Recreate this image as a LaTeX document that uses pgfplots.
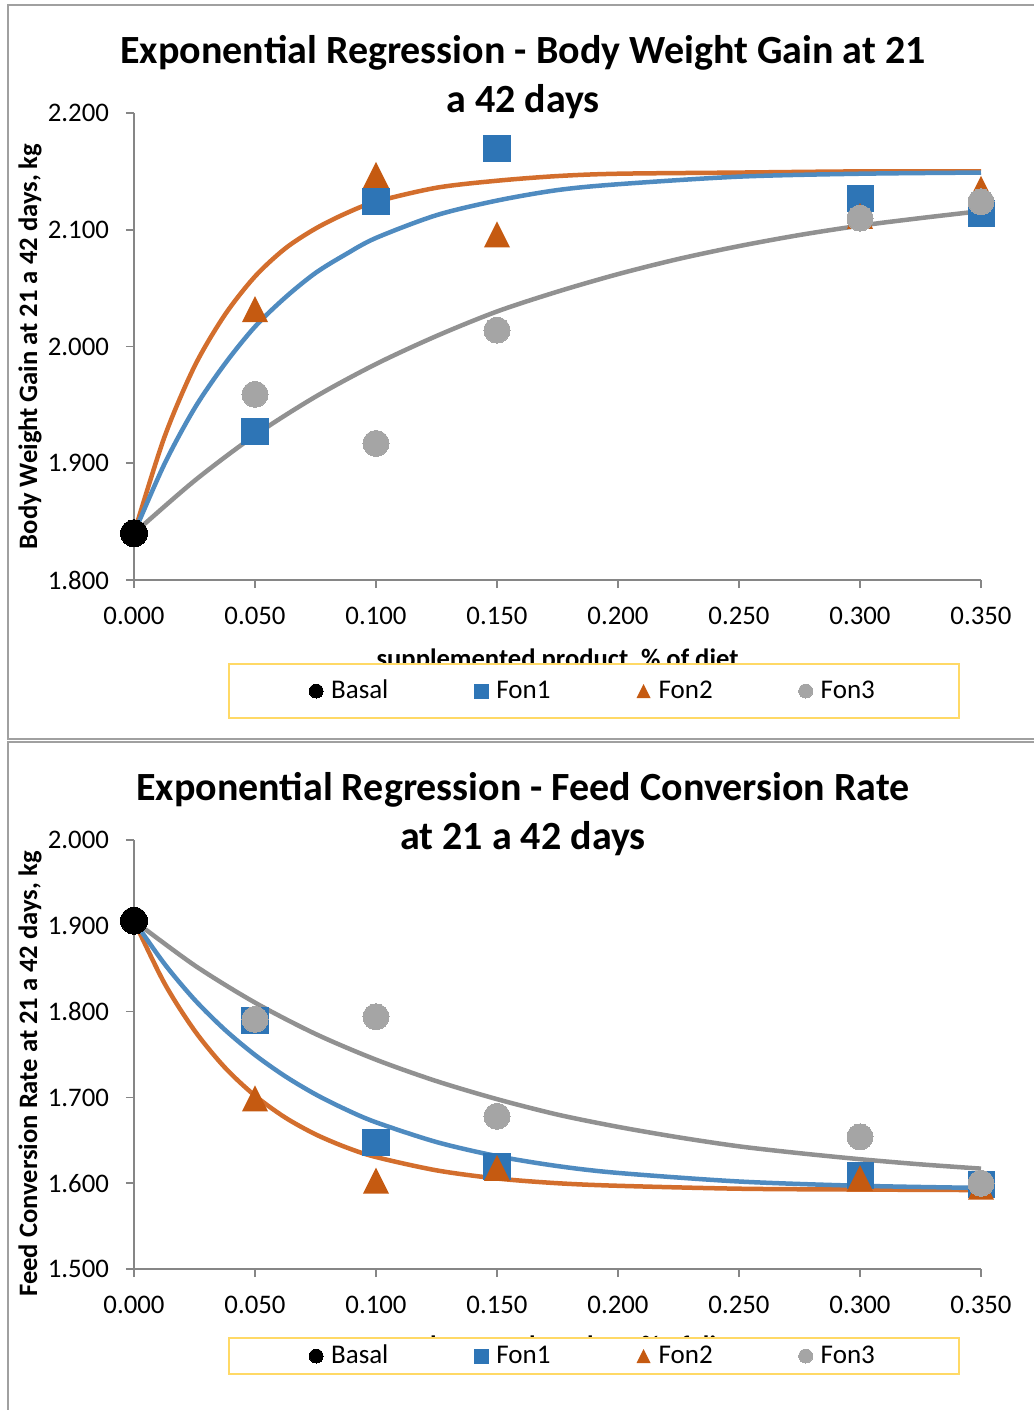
\documentclass[border=0pt]{standalone}
\usepackage{fontspec}
\setmainfont{Carlito}
\usepackage{pgfplots}
\pgfplotsset{compat=1.18}

\definecolor{mblue}{RGB}{46,117,182}
\definecolor{lblue}{RGB}{79,139,192}
\definecolor{morange}{RGB}{197,90,17}
\definecolor{lorange}{RGB}{211,110,45}
\definecolor{mgray}{RGB}{165,165,165}
\definecolor{lgray}{RGB}{145,145,145}
\definecolor{lgold}{RGB}{255,217,102}
\definecolor{framegray}{RGB}{160,160,160}
\definecolor{axgray}{RGB}{134,134,134}

\pgfdeclareplotmark{etri}{%
  \pgfpathmoveto{\pgfqpoint{0pt}{\pgfplotmarksize}}%
  \pgfpathlineto{\pgfqpoint{\pgfplotmarksize}{-\pgfplotmarksize}}%
  \pgfpathlineto{\pgfqpoint{-\pgfplotmarksize}{-\pgfplotmarksize}}%
  \pgfpathclose\pgfusepathqfill}

\pgfplotsset{
  chartbase/.style={
    scale only axis, width=423.5pt,
    xmin=0, xmax=0.35, clip=false,
    axis x line*=bottom, axis y line*=left,
    axis line style={axgray, line width=0.8pt},
    tick style={axgray, line width=0.8pt},
    tick align=outside, major tick length=4pt,
    xtick={0,0.05,0.1,0.15,0.2,0.25,0.3,0.35},
    tick label style={font=\fontsize{13.4}{15}\selectfont},
    x tick label style={yshift=-6pt, /pgf/number format/.cd, fixed, fixed zerofill, precision=3, assume math mode=true},
    y tick label style={xshift=-5pt, /pgf/number format/.cd, fixed, fixed zerofill, precision=3, assume math mode=true},
    label style={font=\fontsize{13.3}{15}\selectfont\bfseries},
    legend columns=4,
    legend cell align=left,
    legend style={draw=lgold, line width=1pt, fill=white,
      font=\fontsize{13.5}{15}\selectfont, anchor=center,
      inner xsep=40pt,
      /tikz/every even column/.append style={column sep=41pt}},
    legend image code/.code={\draw[##1,mark size=3.5pt] plot coordinates {(0pt,0pt)}; \path[draw=none,fill=none] (0pt,0pt) -- (5.5pt,0pt);},
  },
  tline/.style={line width=2.25pt, smooth, no markers, forget plot},
  mk/.style={only marks, mark size=6.5pt, color=#1, mark options={solid, fill=#1, draw=#1, line width=0pt}},
}

\begin{document}
\begin{tikzpicture}
\useasboundingbox (0,0) rectangle (517pt,-705pt);
\fill[white] (0,0) rectangle (517pt,-705pt);
% panel frames
\draw[framegray, line width=1pt] (530pt,-2.5pt) -- (4pt,-2.5pt) -- (4pt,-369.5pt) -- (530pt,-369.5pt);
\draw[framegray, line width=1pt] (530pt,-371pt) -- (4pt,-371pt) -- (4pt,-710pt);

% titles
\node[align=center, font=\fontsize{20}{24.5}\selectfont\bfseries] at (261.5pt,-38.5pt)
  {Exponential Regression - Body Weight Gain at 21\\a 42 days};
\node[align=center, font=\fontsize{20}{24.5}\selectfont\bfseries] at (261.5pt,-407pt)
  {Exponential Regression - Feed Conversion Rate\\at 21 a 42 days};

% ---------------- top chart ----------------
\begin{axis}[chartbase, at={(67pt,-290pt)}, anchor=south west, height=233.5pt,
  ymin=1.8, ymax=2.2, ytick={1.8,1.9,2.0,2.1,2.2},
  ylabel={Body Weight Gain at 21 a 42 days, kg},
  ylabel style={at={(axis description cs:-0.1228,0.5)}, anchor=center},
  xlabel={supplemented product, \% of diet},
  xlabel style={at={(axis description cs:0.5,-0.1863)}, anchor=base},
  legend style={at={(axis description cs:0.5431,-0.2377)}, inner ysep=6pt},
]
\addplot[tline, lorange] coordinates {
(0,1.840)(0.0125,1.922)(0.025,1.983)(0.0375,2.027)(0.05,2.060)(0.0625,2.084)(0.075,2.101)(0.0875,2.114)(0.1,2.124)
(0.125,2.136)(0.15,2.142)(0.175,2.146)(0.2,2.148)(0.25,2.149)(0.3,2.150)(0.35,2.150)};
\addplot[tline, lblue] coordinates {
(0,1.840)(0.0125,1.899)(0.025,1.947)(0.0375,1.985)(0.05,2.017)(0.0625,2.042)(0.075,2.063)(0.0875,2.079)(0.1,2.093)
(0.125,2.1125)(0.15,2.125)(0.175,2.134)(0.2,2.139)(0.25,2.1455)(0.3,2.148)(0.35,2.149)};
\addplot[tline, lgray] coordinates {
(0,1.840)(0.025,1.885)(0.05,1.924)(0.075,1.957)(0.1,1.985)(0.125,2.009)(0.15,2.030)
(0.175,2.047)(0.2,2.062)(0.225,2.075)(0.25,2.086)(0.275,2.0955)(0.3,2.1035)(0.325,2.110)(0.35,2.116)};
\addplot[mk=black, mark=*, mark size=6.75pt] coordinates {(0,1.840)};
\addlegendentry{Basal}
\addplot[mk=mblue, mark=square*] coordinates {(0.05,1.927)(0.10,2.124)(0.15,2.170)(0.30,2.127)(0.35,2.114)};
\addlegendentry{Fon1}
\addplot[mk=morange, mark=etri] coordinates {(0.05,2.032)(0.10,2.147)(0.15,2.096)(0.30,2.112)(0.35,2.135)};
\addlegendentry{Fon2}
\addplot[mk=mgray, mark=*] coordinates {(0.05,1.959)(0.10,1.917)(0.15,2.014)(0.30,2.110)(0.35,2.124)};
\addlegendentry{Fon3}
\end{axis}

% ---------------- bottom chart ----------------
\begin{axis}[chartbase, at={(67pt,-634.5pt)}, anchor=south west, height=214.5pt,
  ymin=1.5, ymax=2.0, ytick={1.5,1.6,1.7,1.8,1.9,2.0},
  ylabel={Feed Conversion Rate at 21 a 42 days, kg},
  ylabel style={at={(axis description cs:-0.1228,0.4545)}, anchor=center},
  xlabel={supplemented product, \% of diet},
  xlabel style={at={(axis description cs:0.5,-0.200)}, anchor=base},
  legend style={at={(axis description cs:0.5431,-0.2028)}, inner ysep=1.5pt},
]
\addplot[tline, lorange] coordinates {
(0,1.906)(0.0125,1.8335)(0.025,1.778)(0.0375,1.735)(0.05,1.702)(0.0625,1.6765)(0.075,1.657)(0.0875,1.642)(0.1,1.6305)
(0.125,1.615)(0.15,1.6055)(0.175,1.600)(0.2,1.597)(0.25,1.5936)(0.3,1.5926)(0.35,1.592)};
\addplot[tline, lblue] coordinates {
(0,1.906)(0.0125,1.856)(0.025,1.814)(0.0375,1.779)(0.05,1.7495)(0.0625,1.7246)(0.075,1.7036)(0.0875,1.686)(0.1,1.671)
(0.125,1.648)(0.15,1.6316)(0.175,1.620)(0.2,1.612)(0.25,1.602)(0.3,1.597)(0.35,1.5945)};
\addplot[tline, lgray] coordinates {
(0,1.906)(0.025,1.854)(0.05,1.8105)(0.075,1.774)(0.1,1.744)(0.125,1.719)(0.15,1.698)
(0.175,1.680)(0.2,1.6657)(0.225,1.6535)(0.25,1.643)(0.275,1.635)(0.3,1.628)(0.325,1.622)(0.35,1.617)};
\addplot[mk=black, mark=*, mark size=6.75pt] coordinates {(0,1.906)};
\addlegendentry{Basal}
\addplot[mk=mblue, mark=square*] coordinates {(0.05,1.790)(0.10,1.648)(0.15,1.619)(0.30,1.609)(0.35,1.598)};
\addlegendentry{Fon1}
\addplot[mk=morange, mark=etri] coordinates {(0.05,1.699)(0.10,1.603)(0.15,1.618)(0.30,1.606)(0.35,1.596)};
\addlegendentry{Fon2}
\addplot[mk=mgray, mark=*] coordinates {(0.05,1.791)(0.10,1.794)(0.15,1.678)(0.30,1.654)(0.35,1.600)};
\addlegendentry{Fon3}
\end{axis}
\end{tikzpicture}
\end{document}
